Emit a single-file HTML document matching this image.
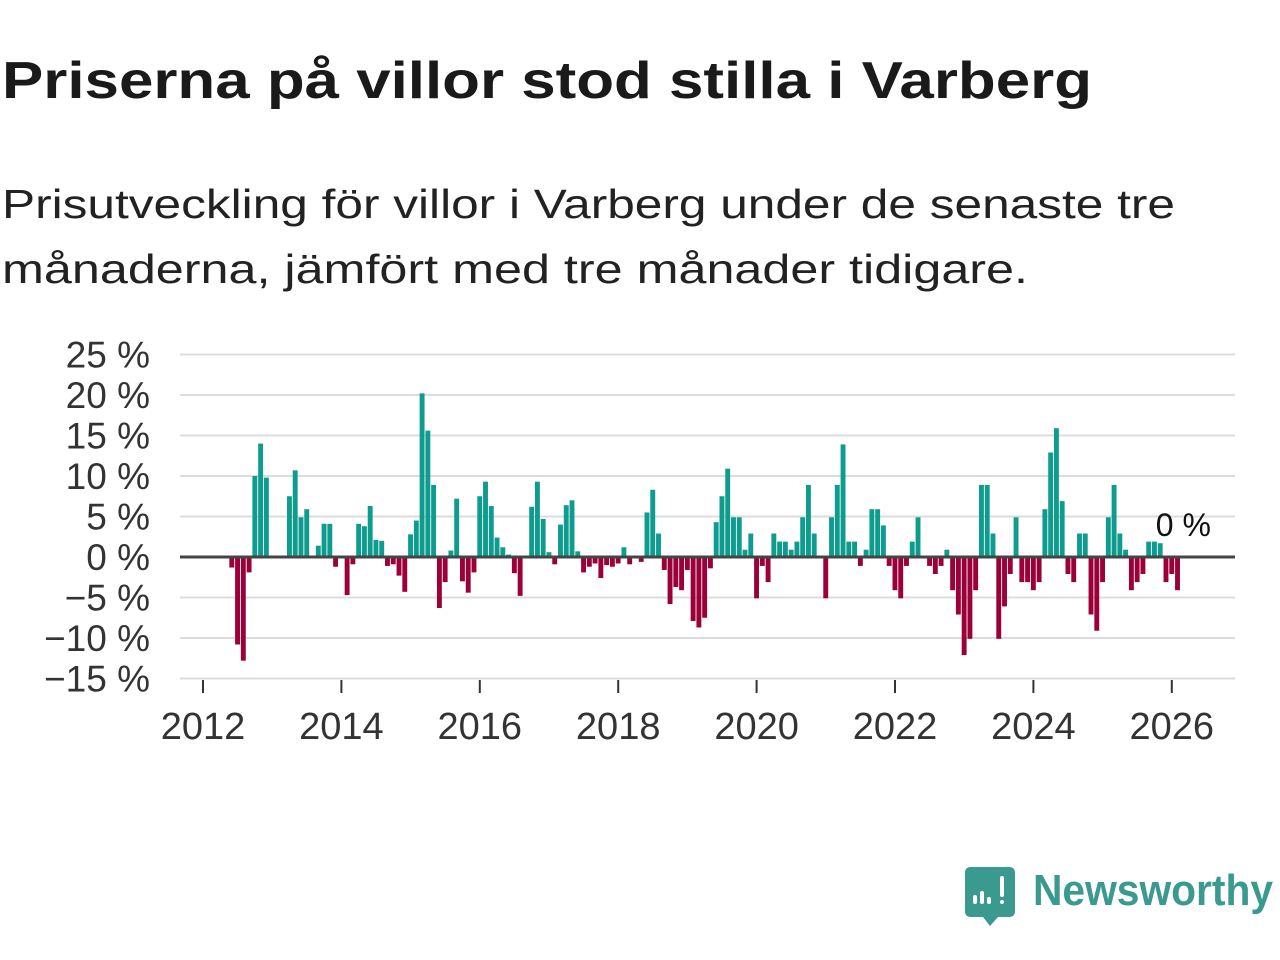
<!DOCTYPE html>
<html><head><meta charset="utf-8"><style>
html,body{margin:0;padding:0;background:#fff;}
svg{display:block;font-family:"Liberation Sans",sans-serif;}
</style></head><body>
<svg id="chart" width="1280" height="960" viewBox="0 0 1280 960">
<text x="2" y="98" font-size="52" font-weight="bold" fill="#1a1a1a" textLength="1090" lengthAdjust="spacingAndGlyphs">Priserna på villor stod stilla i Varberg</text>
<text x="2" y="218" font-size="41" fill="#222" textLength="1173" lengthAdjust="spacingAndGlyphs">Prisutveckling för villor i Varberg under de senaste tre</text>
<text x="2" y="283" font-size="41" fill="#222" textLength="1026" lengthAdjust="spacingAndGlyphs">månaderna, jämfört med tre månader tidigare.</text>
<g id="grid"></g>
<g id="yaxis"></g>
<g id="bars"></g>
<g id="xaxis"></g>
<g>
<path d="M971 867 H1009 Q1015 867 1015 873 V911 Q1015 917 1009 917 H998 L990 926 L983 917 H971 Q965 917 965 911 V873 Q965 867 971 867 Z" fill="#3a9a8f"/>
<rect x="973" y="895" width="4" height="9" rx="2" fill="#fff"/>
<rect x="980" y="891" width="4" height="13" rx="2" fill="#fff"/>
<rect x="987" y="897" width="4" height="7" rx="2" fill="#fff"/>
<rect x="1000" y="876" width="4" height="21" rx="2" fill="#fff"/>
<rect x="1000" y="900" width="4" height="4" rx="2" fill="#fff"/>
<text x="1033" y="905" font-size="44" font-weight="bold" fill="#3a9a8f" textLength="240" lengthAdjust="spacingAndGlyphs">Newsworthy</text>
</g>
</svg>
<script>
// month index 0 = Jan 2012; first value at startMonth
const startMonth = 5;
const values = [-1.3,-10.8,-12.8,-1.9,10.0,14.0,9.8,0,0,0,7.5,10.7,4.9,5.9,0,1.4,4.1,4.1,-1.2,0,-4.7,-0.9,4.1,3.8,6.3,2.1,2.0,-1.1,-0.9,-2.3,-4.3,2.8,4.5,20.2,15.6,8.9,-6.3,-3.1,0.8,7.2,-3.0,-4.4,-1.9,7.5,9.3,6.3,2.4,1.2,0.3,-2.0,-4.8,0,6.2,9.3,4.7,0.6,-0.9,4.0,6.4,7.0,0.7,-1.9,-1.2,-0.8,-2.6,-1.0,-1.2,-0.8,1.2,-0.9,0,-0.6,5.5,8.3,2.9,-1.6,-5.8,-3.7,-4.1,-1.6,-7.9,-8.7,-7.5,-1.4,4.3,7.5,10.9,4.9,4.9,0.9,2.9,-5.1,-1.1,-3.1,2.9,1.9,1.9,0.9,1.9,4.9,8.9,2.9,0,-5.1,4.9,8.9,13.9,1.9,1.9,-1.1,0.9,5.9,5.9,3.9,-1.1,-4.1,-5.1,-1.1,1.9,4.9,0,-1.1,-2.1,-1.1,0.9,-4.1,-7.1,-12.1,-10.1,-4.1,8.9,8.9,2.9,-10.1,-6.1,-2.1,4.9,-3.1,-3.1,-4.1,-3.1,5.9,12.9,15.9,6.9,-2.1,-3.1,2.9,2.9,-7.1,-9.1,-3.1,4.9,8.9,2.9,0.9,-4.1,-3.1,-2.1,1.9,1.9,1.7,-3.1,-2.1,-4.1,0];
const yTicks = [25,20,15,10,5,0,-5,-10,-15];
const yTickLabels = ["25 %","20 %","15 %","10 %","5 %","0 %","−5 %","−10 %","−15 %"];
const xTicks = [2012,2014,2016,2018,2020,2022,2024,2026];
const lastLabel = "0 %";

const NS="http://www.w3.org/2000/svg";
const y0=557, pxPer=8.1;
function yScale(v){return y0 - v*pxPer;}
function xScale(m){return 203 + m*69.2/12;}
function mk(tag,attrs,parent){const e=document.createElementNS(NS,tag);for(const k in attrs)e.setAttribute(k,attrs[k]);parent.appendChild(e);return e;}
const grid=document.getElementById('grid'),yax=document.getElementById('yaxis'),bars=document.getElementById('bars'),xax=document.getElementById('xaxis');
yTicks.forEach((t,i)=>{
  if(t!==0){const l=mk('line',{x1:180,x2:1235,y1:yScale(t),y2:yScale(t),stroke:'#dcdcdc','stroke-width':2},grid);
  
  }
  const tx=mk('text',{x:150,y:yScale(t)+13,'text-anchor':'end','font-size':37,fill:'#333'},yax);
  tx.textContent=yTickLabels[i];
  
  
});
values.forEach((v,i)=>{
  if(v===0)return;
  const m=startMonth+i, x=xScale(m)-2.5;
  const r=mk('rect',{x:x,width:4.9,y:Math.min(yScale(v),y0),height:Math.abs(yScale(v)-y0),fill:v>0?'#0e9c8e':'#9b0038'},bars);
  
  
});
const zl=mk('line',{x1:180,x2:1235,y1:y0,y2:y0,stroke:'#444','stroke-width':3},bars);


const lastM=startMonth+values.length-1;
const ll=mk('text',{x:xScale(lastM),y:536,'text-anchor':'middle','font-size':32,fill:'#111'},bars);
ll.textContent=lastLabel;


xTicks.forEach(yr=>{
  const x=xScale((yr-2012)*12);
  const tk=mk('line',{x1:x,x2:x,y1:680,y2:693,stroke:'#333','stroke-width':2},xax);
  
  
  const tx=mk('text',{x:x,y:739,'text-anchor':'middle','font-size':38,fill:'#333'},xax);
  tx.textContent=yr;
  
  
});
</script>
</body></html>
